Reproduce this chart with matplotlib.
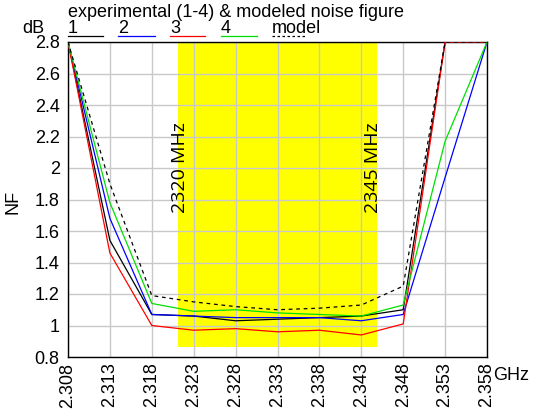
import matplotlib
matplotlib.use("Agg")
import matplotlib.pyplot as plt
from matplotlib.lines import Line2D

plt.rcParams['font.family'] = ['Liberation Sans', 'DejaVu Sans']

freq = [2.308, 2.313, 2.318, 2.323, 2.328, 2.333, 2.338, 2.343, 2.348, 2.353, 2.358]
nf1 = [2.8, 1.54, 1.07, 1.06, 1.03, 1.04, 1.05, 1.06, 1.10, 2.8, 2.8]
nf2 = [2.8, 1.68, 1.07, 1.06, 1.05, 1.05, 1.05, 1.03, 1.07, 1.94, 2.8]
nf3 = [2.8, 1.46, 1.00, 0.97, 0.98, 0.96, 0.97, 0.94, 1.01, 2.8, 2.8]
nf4 = [2.8, 1.78, 1.14, 1.09, 1.10, 1.08, 1.07, 1.06, 1.13, 2.17, 2.8]
model = [2.8, 1.90, 1.19, 1.15, 1.12, 1.10, 1.11, 1.13, 1.25, 2.8, 2.8]
xticks = [2.308, 2.313, 2.318, 2.323, 2.328, 2.333, 2.338, 2.343, 2.348, 2.353, 2.358]
xticklabels = ["2.308", "2.313", "2.318", "2.323", "2.328", "2.333", "2.338", "2.343", "2.348", "2.353", "2.358"]
yticks = [0.8, 1.0, 1.2, 1.4, 1.6, 1.8, 2.0, 2.2, 2.4, 2.6, 2.8]
yticklabels = ["0.8", "1", "1.2", "1.4", "1.6", "1.8", "2", "2.2", "2.4", "2.6", "2.8"]
band = [2.3211, 2.3449]
band_labels = ["2320 MHz", "2345 MHz"]

W, H = 534, 416
fig = plt.figure(figsize=(W/100, H/100), dpi=100)
ax = fig.add_axes([68/W, (H-357)/H, (487-68)/W, (357-42)/H])

ax.axvspan(band[0], band[1], ymin=(0.863-0.8)/2.0, ymax=1.0, color='#ffff00', zorder=0.2, lw=0)
ax.set_axisbelow(True)
ax.grid(True, color='#c8c8c8', lw=1.0)

lw = 0.9
ax.plot(freq, nf1, color='black', lw=lw, zorder=3)
ax.plot(freq, nf2, color='#0000ff', lw=lw, zorder=3)
ax.plot(freq, nf3, color='#ff0000', lw=lw, zorder=3)
ax.plot(freq, nf4, color='#00e000', lw=lw, zorder=3)
ax.plot(freq, model, color='black', lw=lw, ls=(0, (3, 3)), zorder=3)

ax.set_xlim(2.308, 2.358)
ax.set_ylim(0.8, 2.8)
ax.set_xticks(xticks)
ax.set_xticklabels(xticklabels, rotation=90, fontsize=13)
ax.set_yticks(yticks)
ax.set_yticklabels(yticklabels, fontsize=13)
ax.tick_params(length=0, pad=4)
ax.tick_params(axis='y', pad=6)
for s in ax.spines.values():
    s.set_color('black')
    s.set_linewidth(1.0)

ax.text(2.32137, 2.0, band_labels[0], rotation=90, ha='center', va='center',
        fontsize=14, family=['Open Sans', 'DejaVu Sans'], zorder=4)
ax.text(2.3444, 2.0, band_labels[1], rotation=90, ha='center', va='center',
        fontsize=14, family=['Open Sans', 'DejaVu Sans'], zorder=4)

def fx(px):
    return px / W

def fy(py):
    return 1 - py / H

fig.text(fx(68), fy(17), "experimental (1-4) & modeled noise figure", fontsize=13, va='baseline', ha='left')
fig.text(fx(22), fy(33), "dB", fontsize=13, va='baseline', ha='left')
fig.text(fx(13), fy(202), "NF", fontsize=13, rotation=90, va='center', ha='center')
fig.text(fx(493), fy(375), "GHz", fontsize=13, va='center', ha='left')

leg = [("1", 68, 103, 'black', '-'), ("2", 118, 155, '#0000ff', '-'),
       ("3", 170, 205, '#ff0000', '-'), ("4", 221, 257, '#00e000', '-'),
       ("model", 272, 305, 'black', (0, (2, 2)))]
for lab, x0, x1, c, ls in leg:
    fig.text(fx(x0), fy(33), lab, fontsize=13, va='baseline', ha='left')
    fig.add_artist(Line2D([fx(x0), fx(x1)], [fy(36), fy(36)], color=c, lw=0.9, ls=ls,
                          transform=fig.transFigure))

fig.savefig("out.png", dpi=100)
